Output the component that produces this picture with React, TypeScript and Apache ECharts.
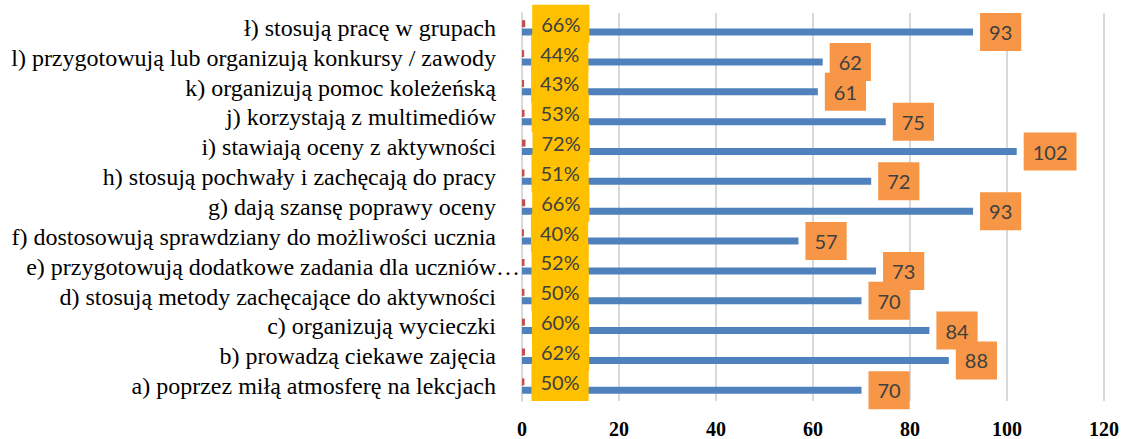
import React, { useEffect, useRef } from 'react';
import * as echarts from 'echarts';

const categories = [
  'a) poprzez miłą atmosferę na lekcjach',
  'b) prowadzą ciekawe zajęcia',
  'c) organizują wycieczki',
  'd) stosują metody zachęcające do aktywności',
  'e) przygotowują dodatkowe zadania dla uczniów',
  'f) dostosowują sprawdziany do możliwości ucznia',
  'g) dają szansę poprawy oceny',
  'h) stosują pochwały i zachęcają do pracy',
  'i) stawiają oceny z aktywności',
  'j) korzystają z multimediów',
  'k) organizują pomoc koleżeńską',
  'l) przygotowują lub organizują konkursy / zawody',
  'ł) stosują pracę w grupach',
];
const truncatedLabels = [4];
const counts = [70, 88, 84, 70, 73, 57, 93, 72, 102, 75, 61, 62, 93];
const shares = [0.5, 0.62, 0.6, 0.5, 0.52, 0.4, 0.66, 0.51, 0.72, 0.53, 0.43, 0.44, 0.66];
const xTicks = { min: 0, max: 120, interval: 20 };

export default function App() {
  const ref = useRef<HTMLDivElement>(null);
  useEffect(() => {
    if (!ref.current) return;
    const chart = echarts.init(ref.current, null, { renderer: 'svg' });
    const labelFont = 'Lato, "Open Sans", sans-serif';
    const serif = '"Liberation Serif", "Times New Roman", serif';
    chart.setOption({
      animation: false,
      grid: { left: 522, right: 21, top: 13, bottom: 36, containLabel: false },
      xAxis: {
        type: 'value',
        min: xTicks.min,
        max: xTicks.max,
        interval: xTicks.interval,
        axisLine: { show: false },
        axisTick: { show: false },
        splitLine: { lineStyle: { color: '#d9d9d9', width: 2 } },
        axisLabel: {
          color: '#000',
          fontFamily: serif,
          fontWeight: 'bold',
          fontSize: 20,
          margin: 18,
        },
      },
      yAxis: {
        type: 'category',
        data: categories,
        axisLine: { show: true, lineStyle: { color: '#d9d9d9', width: 2 } },
        axisTick: { show: false },
        axisLabel: {
          interval: 0,
          hideOverlap: false,
          color: '#000',
          fontFamily: serif,
          fontSize: 24,
          lineHeight: 24,
          margin: 2,
          formatter: (v: string, i: number) =>
            truncatedLabels.includes(i) ? `${v}{dots|…}` : `${v}{sp| }`,
          rich: {
            dots: { width: 24, fontSize: 24, lineHeight: 24, fontFamily: serif, color: '#000' },
            sp: { width: 24, fontSize: 24, lineHeight: 24, fontFamily: serif },
          },
        },
      },
      series: [
        {
          type: 'bar',
          data: shares,
          barWidth: 7,
          barGap: '20%',
          itemStyle: { color: '#c0504d' },
          label: {
            show: true,
            position: 'right',
            distance: 7,
            formatter: (p: any) => `${Math.round(p.value * 100)}%`,
            backgroundColor: '#ffc000',
            color: '#404040',
            fontFamily: labelFont,
            fontSize: 20,
            lineHeight: 20,
            padding: [9, 9],
          },
        },
        {
          type: 'bar',
          data: counts,
          barWidth: 7,
          barGap: '20%',
          itemStyle: { color: '#4f81bd' },
          label: {
            show: true,
            position: 'right',
            distance: 7,
            backgroundColor: '#f79646',
            color: '#404040',
            fontFamily: labelFont,
            fontSize: 20,
            lineHeight: 20,
            padding: [9, 9],
          },
        },
      ],
    });
    return () => chart.dispose();
  }, []);
  return (
    <div
      ref={ref}
      style={{ position: 'fixed', left: 0, top: 0, width: 1125, height: 439, background: '#fff' }}
    />
  );
}
